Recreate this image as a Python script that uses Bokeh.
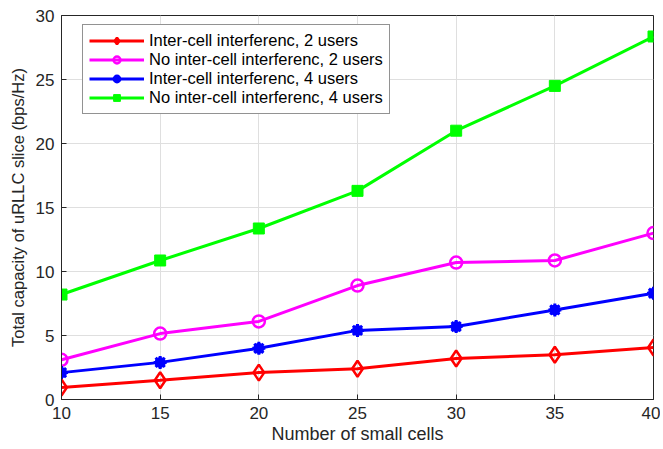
from bokeh.plotting import figure
from bokeh.embed import file_html
from bokeh.resources import INLINE
from bokeh.models import Legend, LegendItem, FixedTicker, Range1d

cells = [10, 15, 20, 25, 30, 35, 40]
inter_2 = [0.94, 1.5, 2.1, 2.4, 3.2, 3.5, 4.06]
nointer_2 = [3.1, 5.15, 6.1, 8.9, 10.7, 10.86, 13.0]
inter_4 = [2.1, 2.9, 4.0, 5.4, 5.7, 7.0, 8.3]
nointer_4 = [8.2, 10.86, 13.36, 16.3, 21.0, 24.5, 28.36]
x_ticks = [10, 15, 20, 25, 30, 35, 40]
y_ticks = [0, 5, 10, 15, 20, 25, 30]

p = figure(width=660, height=447, output_backend="svg", toolbar_location=None,
           x_range=Range1d(10, 40), y_range=Range1d(0, 30),
           min_border_left=61, min_border_right=7, min_border_top=15, min_border_bottom=48)

FONT = "Liberation Sans"
p.outline_line_color = "#262626"
p.outline_line_width = 1
for ax in (p.xaxis[0], p.yaxis[0]):
    ax.axis_line_color = "#262626"
    ax.major_tick_line_color = "#262626"
    ax.major_tick_in = 5
    ax.major_tick_out = 0
    ax.minor_tick_line_color = None
    ax.major_label_text_font = FONT
    ax.major_label_text_font_size = "17px"
    ax.major_label_text_color = "#262626"
    ax.axis_label_text_font = FONT
    ax.axis_label_text_font_style = "normal"
    ax.axis_label_text_color = "#262626"
p.xaxis.axis_label_text_font_size = "18px"
p.yaxis.axis_label_text_font_size = "16.5px"
p.xaxis.ticker = FixedTicker(ticks=x_ticks)
p.yaxis.ticker = FixedTicker(ticks=y_ticks)
p.xaxis.axis_label = "Number of small cells"
p.yaxis.axis_label = "Total capacity of uRLLC slice (bps/Hz)"
p.xaxis.axis_label_standoff = 2
p.yaxis.axis_label_standoff = 6
p.xaxis.major_label_standoff = 7
p.yaxis.major_label_standoff = 7
p.xgrid.grid_line_color = "#dfdfdf"
p.ygrid.grid_line_color = "#dfdfdf"

lw = 3
r1l = p.line(cells, inter_2, color="red", line_width=lw)
r1m = p.scatter(cells, inter_2, marker="diamond", size=16, line_color="red", fill_color=None, line_width=2.5)
r2l = p.line(cells, nointer_2, color="magenta", line_width=lw)
r2m = p.scatter(cells, nointer_2, marker="circle", size=12, line_color="magenta", fill_color=None, line_width=2.5)
r3l = p.line(cells, inter_4, color="blue", line_width=lw)
r3m = p.scatter(cells, inter_4, marker="circle", size=9, line_color="blue", fill_color="blue", line_width=2)
r3a = p.scatter(cells, inter_4, marker="asterisk", size=13, line_color="blue", line_width=3)
r4l = p.line(cells, nointer_4, color="#00ff00", line_width=lw)
r4m = p.scatter(cells, nointer_4, marker="square", size=11, line_color="#00ff00", fill_color="#00ff00")

legend = Legend(items=[
    LegendItem(label="Inter-cell interferenc, 2 users", renderers=[r1l, r1m]),
    LegendItem(label="No inter-cell interferenc, 2 users", renderers=[r2l, r2m]),
    LegendItem(label="Inter-cell interferenc, 4 users", renderers=[r3l, r3m, r3a]),
    LegendItem(label="No inter-cell interferenc, 4 users", renderers=[r4l, r4m]),
], location=(21, 285))
legend.label_text_font = FONT
legend.label_text_font_size = "16.5px"
legend.label_text_color = "#000000"
legend.glyph_width = 55
legend.glyph_height = 17
legend.label_height = 17
legend.spacing = 0
legend.padding = 6
legend.margin = 0
legend.label_standoff = 5
legend.border_line_color = "#262626"
legend.border_line_width = 1
legend.background_fill_alpha = 1.0
p.add_layout(legend, "center")

open("out.html", "w").write(file_html(p, INLINE))
